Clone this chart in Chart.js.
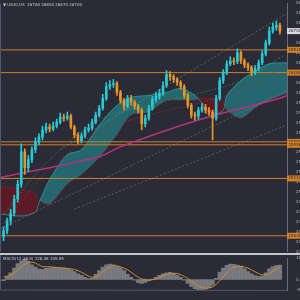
<!DOCTYPE html>
<html>
<head>
<meta charset="utf-8">
<script src="https://cdn.jsdelivr.net/npm/chart.js@4.4.1/dist/chart.umd.min.js"></script>
<style>
html, body { margin: 0; padding: 0; background: #2a2b36; width: 300px; height: 300px; overflow: hidden; }
canvas { display: block; }
</style>
</head>
<body>
<canvas id="mainChart" width="300" height="255"></canvas>
<canvas id="macdChart" width="300" height="45"></canvas>
<script>
const TITLE = '\u25BC US30,H4  26760 26800 26670 26700';
const MACD_TITLE = 'MACD(12,26,9) 128.46 109.95';

// candles, one per H4 bar (open = previous close)
const firstOpen = 24620;
const closes = [24680, 24780, 24860, 25000, 25150, 25480, 25320, 25400, 25500, 25580,
                25630, 25700, 25730, 25710, 25740, 25780, 25830, 25820, 25840, 25730,
                25650, 25590, 25640, 25700, 25720, 25780, 25850, 25920, 26020, 26140,
                26160, 26170, 26080, 26000, 25940, 26020, 25980, 25940, 25900, 25760,
                25820, 25920, 26010, 26040, 26070, 26150, 26260, 26240, 26210, 26180,
                26140, 26050, 25950, 25850, 25840, 25900, 25930, 25900, 25880, 25820,
                26020, 26200, 26280, 26370, 26400, 26390, 26480, 26400, 26360, 26330,
                26280, 26320, 26380, 26470, 26580, 26700, 26740, 26760, 26700];
const highs = [24720, 24810, 24900, 25040, 25190, 25560, 25510, 25440, 25530, 25620,
               25660, 25740, 25770, 25760, 25780, 25810, 25870, 25860, 25880, 25860,
               25750, 25670, 25670, 25730, 25760, 25810, 25880, 25950, 26060, 26180,
               26200, 26210, 26190, 26100, 26020, 26050, 26050, 26000, 25960, 25920,
               25850, 25950, 26040, 26080, 26110, 26190, 26300, 26290, 26260, 26230,
               26200, 26160, 26070, 25970, 25880, 25930, 25970, 25960, 25930, 25900,
               26050, 26230, 26310, 26400, 26440, 26430, 26520, 26500, 26420, 26380,
               26350, 26350, 26410, 26500, 26610, 26740, 26780, 26800, 26780];
const lows = [24580, 24650, 24740, 24830, 24970, 25120, 25250, 25280, 25370, 25470,
              25550, 25600, 25670, 25680, 25690, 25720, 25760, 25790, 25800, 25710,
              25620, 25560, 25570, 25620, 25680, 25700, 25760, 25830, 25900, 26000,
              26110, 26130, 26050, 25970, 25900, 25920, 25950, 25910, 25870, 25700,
              25730, 25800, 25900, 25980, 26010, 26050, 26130, 26200, 26180, 26150,
              26110, 26020, 25920, 25820, 25800, 25810, 25880, 25870, 25850, 25600,
              25800, 26000, 26170, 26260, 26350, 26360, 26370, 26370, 26330, 26300,
              26250, 26260, 26300, 26360, 26450, 26560, 26680, 26710, 26670];

// horizontal support / resistance levels
const levels = [26510, 26280, 25580, 25550, 25210, 24630];

// ichimoku cloud
const cloudX = [-1, 5, 9, 10, 13, 18, 22, 27, 32, 36, 41, 46, 50, 54, 56, 58, 62, 63, 67, 71, 75, 80];
const spanA = [24850, 24830, 24870, 24960, 25200, 25450, 25500, 25750, 25950, 26030, 26050,
               26080, 26120, 26050, 25970, 25850, 25900, 26050, 26200, 26300, 26370, 26380];
const spanB = [25130, 25100, 25050, 24990, 24950, 25150, 25250, 25420, 25650, 25850, 25880,
               26000, 26000, 26000, 26020, 26020, 25980, 25900, 25820, 25920, 26000, 26070];

// moving averages
const maX = [0, 13, 27, 41, 55, 67, 79];
const maGreen = [24850, 25400, 25800, 25950, 26070, 26200, 26450];
const maRed = [24750, 25300, 25680, 25850, 25970, 26100, 26340];
const slowX = [-1, 27, 33, 55, 78, 80];
const maSlow = [25220, 25430, 25530, 25800, 26020, 26050];

// dashed channel lines
const chanX = [[16, 80], [-1, 80], [20, 80]];
const chanY = [[25500, 26880], [24700, 26100], [24900, 25750]];

// MACD panel
const macdMain = [-10, 25, 60, 100, 140, 165, 178, 160, 130, 110,
                  92, 90, 98, 104, 105, 104, 104, 100, 94, 86,
                  70, 50, 36, 20, 8, 10, 45, 80, 110, 130,
                  137, 130, 115, 104, 80, 45, 20, -5, -28, -35,
                  -25, -10, 5, 20, 36, 50, 60, 63, 55, 38,
                  20, -5, -35, -62, -80, -90, -92, -85, -72, -50,
                  10, 65, 100, 125, 137, 135, 128, 118, 95, 70,
                  50, 35, 25, 30, 60, 95, 115, 125, 128];
const macdSignal = [22, 30, 40, 60, 85, 110, 135, 150, 153, 145,
                    128, 115, 112, 112, 110, 106, 104, 102, 98, 95,
                    88, 78, 64, 48, 30, 20, 22, 40, 65, 90,
                    110, 120, 120, 112, 100, 85, 65, 42, 20, 5,
                    -2, -4, -2, 5, 18, 32, 45, 53, 55, 52,
                    42, 28, 10, -12, -35, -55, -70, -76, -74, -65,
                    -43, -10, 25, 60, 90, 108, 115, 115, 110, 100,
                    85, 68, 52, 42, 40, 52, 72, 92, 110];
const macdTicks = [-92.3, 0, 186.3];

// time axis
const xTickIdx = [0, 5, 11, 16, 21, 27, 32, 37, 43, 48, 53, 59, 64, 69, 75];
const xTickLabels = ['2 Jul 2019', '11 Jul 09:00', '15 Jul 09:00', '17 Jul 17:00', '22 Jul 09:00',
                     '24 Jul 17:00', '29 Jul 09:00', '31 Jul 17:00', '5 Aug 09:00', '7 Aug 17:00',
                     '12 Aug 09:00', '14 Aug 17:00', '19 Aug 09:00', '21 Aug 17:00', '26 Aug 09:00'];

const BG = '#2a2b36';
const BULL = '#27c9d3';
const BEAR = '#e6952b';
const LEVEL = '#d08028';
const FONT = '"DejaVu Sans", sans-serif';

const opens = closes.map((c, i) => i == 0 ? firstOpen : closes[i - 1]);
const candleColor = ctx => closes[ctx.dataIndex] >= opens[ctx.dataIndex] ? BULL : BEAR;

function pts(xs, ys) {
    return xs.map((x, k) => ({x: x, y: ys[k]}));
}

function lineSet(xs, ys, color, dash, width, tension) {
    return {
        type: 'line',
        data: pts(xs, ys),
        borderColor: color,
        borderWidth: width || 1,
        borderDash: dash || [],
        pointRadius: 0,
        fill: false,
        tension: tension === undefined ? 0.4 : tension,
        order: 5,
    };
}

let datasets = [
    {
        type: 'line',
        data: pts(cloudX, spanA),
        borderColor: 'rgba(45,170,170,0.7)',
        borderWidth: 1,
        pointRadius: 0,
        tension: 0.3,
        fill: {target: '+1', above: 'rgba(32,140,146,0.62)', below: 'rgba(110,22,34,0.75)'},
        order: 20,
    },
    {
        type: 'line',
        data: pts(cloudX, spanB),
        borderColor: 'rgba(125,30,42,0.9)',
        borderWidth: 1,
        pointRadius: 0,
        tension: 0.3,
        fill: false,
        order: 20,
    },
];

for (let k = 0; k < chanX.length; k++) {
    datasets.push(lineSet(chanX[k], chanY[k], 'rgba(150,150,160,0.45)', [2, 2], 1, 0));
}
datasets.push(lineSet(maX, maGreen, '#3f9a3c', [1, 2], 1));
datasets.push(lineSet(maX, maRed, '#a33434', [1, 2], 1));
datasets.push(lineSet(slowX, maSlow, '#b8307c', [], 1.5));
levels.forEach(v => datasets.push(lineSet([-1, 80], [v, v], LEVEL, [], 1, 0)));

datasets.push({
    type: 'bar',
    data: closes.map((c, i) => ({x: i, y: [lows[i], highs[i]]})),
    backgroundColor: candleColor,
    barThickness: 1,
    grouped: false,
    order: 1,
});
datasets.push({
    type: 'bar',
    data: closes.map((c, i) => ({x: i, y: [opens[i], c]})),
    backgroundColor: candleColor,
    barThickness: 2,
    minBarLength: 1,
    grouped: false,
    order: 0,
});

const mainOverlay = {
    id: 'mainOverlay',
    afterDraw(chart) {
        const ctx = chart.ctx;
        const a = chart.chartArea;
        const y = chart.scales.y;
        ctx.save();
        ctx.strokeStyle = '#55566a';
        ctx.lineWidth = 1;
        ctx.beginPath();
        ctx.moveTo(0.5, a.top);
        ctx.lineTo(0.5, a.bottom);
        ctx.stroke();
        ctx.fillStyle = '#c4c4cc';
        ctx.fillRect(0, 253, 300, 2);

        ctx.font = '4px ' + FONT;
        ctx.textBaseline = 'middle';
        levels.forEach(v => {
            const py = y.getPixelForValue(v);
            ctx.fillStyle = LEVEL;
            ctx.fillRect(a.right, py - 3, 300 - a.right, 6);
            ctx.fillStyle = '#2a2b36';
            ctx.fillText(String(v), a.right + 1.5, py);
        });
        const last = closes[closes.length - 1];
        const pl = y.getPixelForValue(last);
        ctx.fillStyle = '#d8d8de';
        ctx.fillRect(a.right, pl - 3, 300 - a.right, 6);
        ctx.fillStyle = '#2a2b36';
        ctx.fillText(String(last), a.right + 1.5, pl);

        ctx.fillStyle = '#c8c8d0';
        ctx.textBaseline = 'top';
        ctx.fillText(TITLE, 3, 3);
        ctx.restore();
    }
};

new Chart(document.getElementById('mainChart').getContext('2d'), {
    type: 'bar',
    data: {datasets: datasets},
    options: {
        responsive: false,
        animation: false,
        devicePixelRatio: 1,
        layout: {padding: 0},
        plugins: {legend: {display: false}, tooltip: {enabled: false}},
        scales: {
            x: {type: 'linear', min: -1, max: 80, display: false, offset: false},
            y: {
                position: 'right',
                min: 24470,
                max: 26980,
                afterFit: s => { s.width = 13; },
                grid: {display: false},
                border: {display: true, color: '#6a6a78'},
                ticks: {
                    stepSize: 100,
                    includeBounds: false,
                    autoSkip: false,
                    padding: 1,
                    color: '#b8b8c2',
                    font: {size: 4, family: FONT},
                },
            },
        },
    },
    plugins: [mainOverlay],
});

const macdOverlay = {
    id: 'macdOverlay',
    afterDraw(chart) {
        const ctx = chart.ctx;
        const a = chart.chartArea;
        ctx.save();
        ctx.strokeStyle = '#55566a';
        ctx.lineWidth = 1;
        ctx.beginPath();
        ctx.moveTo(0.5, 0);
        ctx.lineTo(0.5, a.bottom);
        ctx.lineTo(a.right, a.bottom + 0.5);
        ctx.stroke();
        ctx.font = '4px ' + FONT;
        ctx.fillStyle = '#c8c8d0';
        ctx.textBaseline = 'top';
        ctx.fillText(MACD_TITLE, 3, 2);
        ctx.restore();
    }
};

new Chart(document.getElementById('macdChart').getContext('2d'), {
    type: 'bar',
    data: {
        datasets: [
            {
                type: 'line',
                data: macdSignal.map((v, i) => ({x: i, y: v})),
                borderColor: '#c9922e',
                borderWidth: 1,
                pointRadius: 0,
                tension: 0.4,
                fill: false,
                order: 0,
            },
            {
                type: 'bar',
                data: macdMain.map((v, i) => ({x: i, y: v})),
                backgroundColor: 'rgba(128,128,134,0.9)',
                barThickness: 3.6,
                grouped: false,
                order: 1,
            },
        ],
    },
    options: {
        responsive: false,
        animation: false,
        devicePixelRatio: 1,
        layout: {padding: 0},
        plugins: {legend: {display: false}, tooltip: {enabled: false}},
        scales: {
            x: {
                type: 'linear',
                min: -1,
                max: 80,
                offset: false,
                afterFit: s => { s.height = 10; },
                afterBuildTicks: s => { s.ticks = xTickIdx.map(v => ({value: v})); },
                grid: {display: false},
                border: {display: false},
                ticks: {
                    autoSkip: false,
                    maxRotation: 0,
                    minRotation: 0,
                    align: 'start',
                    padding: 2,
                    color: '#b8b8c2',
                    font: {size: 4, family: FONT},
                    callback: v => xTickLabels[xTickIdx.indexOf(v)],
                },
            },
            y: {
                position: 'right',
                min: -92.3,
                max: 186.3,
                afterFit: s => { s.width = 13; },
                afterBuildTicks: s => { s.ticks = macdTicks.map(v => ({value: v})); },
                grid: {display: false},
                border: {display: true, color: '#6a6a78'},
                ticks: {
                    autoSkip: false,
                    padding: 1,
                    color: '#b8b8c2',
                    font: {size: 4, family: FONT},
                    callback: v => v == 0 ? '0.00' : v.toFixed(1),
                },
            },
        },
    },
    plugins: [macdOverlay],
});
</script>
</body>
</html>
